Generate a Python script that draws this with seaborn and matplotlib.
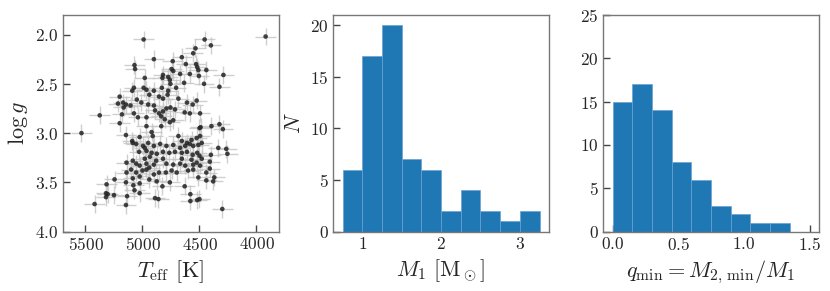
import numpy as np
import pandas as pd
import seaborn as sns
import matplotlib.pyplot as plt

# --- data ---
teff = [3920, 4990, 4455, 4400, 4535, 4555, 4900, 4655, 4735, 5070, 5065,
        4620, 4530, 4520, 4510, 4440, 4745, 4730, 4820, 4825, 4775, 4760,
        4755, 4980, 4670, 4585, 4505, 4290, 4325, 4460, 4635, 4705, 5075,
        5090, 4990, 4965, 4830, 4900, 4775, 4940, 4855, 4820, 4780, 4685,
        5050, 5200, 5215, 5170, 5145, 5105, 5010, 4950, 4900, 5165, 4890,
        4820, 4855, 4835, 4790, 4755, 4715, 4610, 4560, 4525, 4585, 4495,
        4630, 5375, 5180, 5075, 5040, 4965, 4805, 4760, 4730, 5200, 4835,
        4965, 4500, 4490, 4395, 4325, 4295, 5535, 5145, 4920, 4910, 5025,
        4685, 4655, 4610, 4570, 4525, 4495, 5090, 5085, 5055, 4995, 4980,
        4950, 4900, 4845, 4790, 4730, 4670, 4625, 4585, 4555, 4510, 4480,
        4335, 4265, 4255, 5030, 4965, 4920, 4875, 4820, 4765, 4715, 4655,
        4610, 4560, 4520, 4500, 4480, 4400, 4980, 4935, 4880, 4820, 4655,
        4570, 4525, 4410, 5140, 5085, 5055, 5025, 4965, 4940, 4900, 4790,
        4730, 4670, 4625, 4555, 4495, 4410, 4440, 5140, 5100, 5055, 5000,
        4965, 4900, 4855, 4795, 4745, 4700, 4600, 4555, 5085, 5025, 4940,
        4875, 4510, 4440, 4370, 4380, 5145, 5245, 5315, 5080, 5025, 4825,
        4760, 4630, 5070, 5320, 5305, 5250, 5320, 5135, 5025, 4580, 4890,
        4860, 4500, 4520, 4580, 5420, 5145, 4300]
logg = [2.02, 2.05, 2.05, 2.11, 2.14, 2.19, 2.25, 2.23, 2.27, 2.31, 2.35,
        2.30, 2.30, 2.33, 2.36, 2.36, 2.35, 2.37, 2.41, 2.44, 2.43, 2.46,
        2.50, 2.44, 2.40, 2.40, 2.42, 2.41, 2.53, 2.50, 2.49, 2.54, 2.54,
        2.57, 2.54, 2.56, 2.54, 2.57, 2.57, 2.61, 2.63, 2.65, 2.61, 2.65,
        2.66, 2.63, 2.70, 2.69, 2.71, 2.72, 2.69, 2.71, 2.72, 2.74, 2.77,
        2.78, 2.80, 2.83, 2.75, 2.74, 2.76, 2.69, 2.71, 2.67, 2.80, 2.80,
        2.79, 2.82, 2.81, 2.80, 2.84, 2.84, 2.86, 2.89, 2.87, 2.90, 2.93,
        2.93, 2.95, 2.94, 2.93, 2.91, 2.96, 3.00, 3.02, 2.99, 3.03, 3.04,
        3.03, 3.08, 3.10, 3.07, 3.05, 3.03, 3.08, 3.10, 3.11, 3.13, 3.15,
        3.10, 3.13, 3.11, 3.13, 3.12, 3.15, 3.13, 3.11, 3.13, 3.12, 3.10,
        3.15, 3.16, 3.21, 3.19, 3.18, 3.20, 3.21, 3.19, 3.20, 3.19, 3.20,
        3.19, 3.22, 3.20, 3.23, 3.26, 3.22, 3.26, 3.24, 3.28, 3.26, 3.26,
        3.27, 3.30, 3.29, 3.30, 3.28, 3.31, 3.33, 3.31, 3.35, 3.32, 3.31,
        3.32, 3.31, 3.33, 3.32, 3.33, 3.36, 3.40, 3.40, 3.37, 3.40, 3.38,
        3.37, 3.42, 3.40, 3.40, 3.38, 3.40, 3.38, 3.37, 3.46, 3.44, 3.47,
        3.49, 3.45, 3.48, 3.45, 3.49, 3.50, 3.47, 3.52, 3.53, 3.51, 3.54,
        3.50, 3.54, 3.58, 3.61, 3.62, 3.63, 3.65, 3.64, 3.61, 3.62, 3.66,
        3.67, 3.67, 3.68, 3.69, 3.72, 3.73, 3.77]
teff_err = 90
logg_err = 0.09

m1_edges = [0.75, 1.0, 1.25, 1.5, 1.75, 2.0, 2.25, 2.5, 2.75, 3.0, 3.25]
m1_counts = [6, 17, 20, 7, 6, 2, 4, 2, 1, 2]

q_edges = [0.0, 0.15, 0.3, 0.45, 0.6, 0.75, 0.9, 1.05, 1.2, 1.35, 1.5]
q_counts = [15, 17, 14, 8, 6, 3, 2, 1, 1, 0]

sns.set_style("ticks")
plt.rcParams['font.family'] = 'serif'
plt.rcParams['font.serif'] = ['cmr10', 'DejaVu Serif']
plt.rcParams['mathtext.fontset'] = 'cm'
plt.rcParams['axes.formatter.use_mathtext'] = True
plt.rcParams['axes.unicode_minus'] = False

fig = plt.figure(figsize=(8.3, 2.91), dpi=100)
w, h, b = 0.261, 0.745, 0.204
ax1 = fig.add_axes([0.0755, b, w, h])
ax2 = fig.add_axes([0.4009, b, w, h])
ax3 = fig.add_axes([0.7262, b, w, h])

# left panel: Teff vs log g
ax1.errorbar(teff, logg, xerr=teff_err, yerr=logg_err, fmt='none',
             ecolor='#c4c4c4', elinewidth=1, alpha=0.8, zorder=1)
sns.scatterplot(x=teff, y=logg, ax=ax1, color='#222222', s=11,
                edgecolor='none', alpha=0.85, zorder=2)
ax1.set_xlim(5700, 3800)
ax1.set_ylim(4.0, 1.8)
ax1.set_xticks([5500, 5000, 4500, 4000])
ax1.set_yticks([2.0, 2.5, 3.0, 3.5, 4.0])
ax1.set_xlabel(r'$T_{\rm eff}$ [K]', fontsize=16)
ax1.set_ylabel(r'$\log g$', fontsize=16)

# middle panel: M1 histogram
m1_centers = [(a + c) / 2 for a, c in zip(m1_edges[:-1], m1_edges[1:])]
sns.histplot(x=m1_centers, weights=m1_counts, bins=m1_edges, ax=ax2,
             color='#1f77b4', alpha=1, edgecolor='#6aa3d3', linewidth=0.5)
ax2.set_yticks([0, 5, 10, 15, 20])
ax2.set_xticks([1, 2, 3])
ax2.set_xlabel(r'$M_1\ [\mathrm{M}_\odot]$', fontsize=16)
ax2.set_ylabel(r'$N$', fontsize=16)

# right panel: q_min histogram
q_centers = [(a + c) / 2 for a, c in zip(q_edges[:-1], q_edges[1:])]
sns.histplot(x=q_centers, weights=q_counts, bins=q_edges, ax=ax3,
             color='#1f77b4', alpha=1, edgecolor='#6aa3d3', linewidth=0.5)
ax3.set_xlim(-0.075, 1.575)
ax3.set_ylim(0, 25)
ax3.set_xticks([0.0, 0.5, 1.0, 1.5])
ax3.set_yticks([0, 5, 10, 15, 20, 25])
ax3.set_xlabel(r'$q_{\rm min} = M_{2,\,\rm min}/M_1$', fontsize=16)
ax3.set_ylabel('')

for ax in (ax1, ax2, ax3):
    ax.tick_params(direction='in', length=5, width=1, labelsize=12.5,
                   color='#444444', pad=3)
    for sp in ax.spines.values():
        sp.set_visible(True)
        sp.set_color('#777777')
        sp.set_linewidth(1)

fig.savefig('out.png', dpi=100)
